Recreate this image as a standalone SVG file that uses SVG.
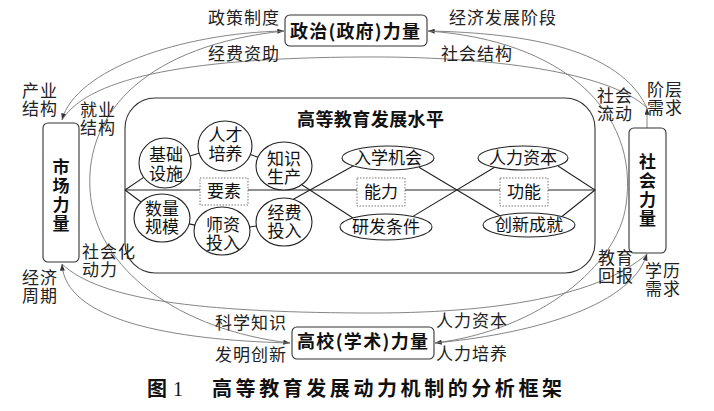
<svg xmlns="http://www.w3.org/2000/svg" width="714" height="411" viewBox="0 0 714 411">
<defs>
<style>
.t{font-family:"Liberation Serif","Noto Sans CJK SC",serif;font-size:17px;fill:#222;letter-spacing:1px}
.m{font-family:"Liberation Serif","Noto Sans CJK SC",serif;font-size:17px;fill:#111;text-anchor:middle}
.b{font-family:"Noto Sans CJK SC",sans-serif;font-size:18px;font-weight:bold;fill:#111}
.v{font-family:"Noto Sans CJK SC",sans-serif;font-size:17px;font-weight:bold;fill:#111;writing-mode:vertical-rl;letter-spacing:2px}
.n{fill:#fff;stroke:#222;stroke-width:1.1}
.box{fill:#fff;stroke:#333;stroke-width:1.1}
.d{fill:#fff;stroke:#777;stroke-width:1;stroke-dasharray:1.5 1.5}
.c{fill:none;stroke:#777;stroke-width:0.9}
.l{fill:none;stroke:#222;stroke-width:1.1}
</style>
<marker id="ah" viewBox="0 0 8 6" refX="8" refY="3" markerWidth="7" markerHeight="5" orient="auto-start-reverse" markerUnits="userSpaceOnUse"><path d="M0,0 L8,3 L0,6 z" fill="#333"/></marker>
</defs>
<rect width="714" height="411" fill="#fff"/>

<g id="hed-frame">
<rect x="125" y="98" width="470" height="175" rx="30" class="box"/>
<text class="b" x="297" y="126" textLength="147">高等教育发展水平</text>
</g>

<g id="connectors">
<path class="c" d="M62,120 C75,70 180,33 284,31" marker-start="url(#ah)" marker-end="url(#ah)"/>
<path class="c" d="M62,120 C90,75 200,58 360,57 C490,56 610,72 647,108"/>
<path class="c" d="M428,31 C530,33 620,50 647,108" marker-start="url(#ah)"/>
<path class="c" d="M647,128 L647,108" marker-end="url(#ah)"/>
<path class="c" d="M428,31 C560,40 640,110 626,205 C618,265 540,330 435,343" marker-end="url(#ah)"/>
<path class="c" d="M284,31 C150,45 85,110 90,190 C95,270 180,330 290,343" marker-end="url(#ah)"/>
<path class="c" d="M62,264 C100,300 200,312 360,313 C500,314 600,295 647,254"/>
<path class="c" d="M62,264 C65,320 170,340 290,343" marker-start="url(#ah)"/>
<path class="c" d="M647,254 C630,310 520,335 435,343" marker-start="url(#ah)"/>
<path class="l" d="M125,190 H595"/>
<path class="l" d="M125,190 L143.7,177.4 M125,190 L141,202"/>
<path class="l" d="M190,156 L199,153.3 M250.4,154.6 L258,157.2"/>
<path class="l" d="M189.1,223.9 L194.9,225.1 M249.6,227 L256.4,226"/>
<path class="l" d="M301.8,184.7 L353,218 M293.4,199.3 L353.5,165.8"/>
<path class="l" d="M419,167.2 L500,215.8 M413,216.4 L495,167"/>
<path class="l" d="M558,166 L595,190 L562,216.5"/>
</g>

<g id="politics">
<rect x="285" y="15" width="142" height="31" rx="5" class="box"/>
<text class="b" x="290" y="38" textLength="130">政治(政府)力量</text>
</g>
<g id="university">
<rect x="292" y="327" width="142" height="32" rx="5" class="box"/>
<text class="b" x="297" y="348" textLength="131">高校(学术)力量</text>
</g>
<g id="market">
<rect x="43" y="123" width="36" height="139" rx="5" class="box"/>
<text class="v" x="61" y="158">市场力量</text>
</g>
<g id="society">
<rect x="629" y="128" width="37" height="125" rx="5" class="box"/>
<text class="v" x="647.5" y="153">社会力量</text>
</g>

<g id="jichusheshi"><ellipse cx="165" cy="163" rx="26" ry="25" class="n"/><text class="m" x="166" y="161">基础</text><text class="m" x="166" y="180">设施</text></g>
<g id="rencaipeiyang"><ellipse cx="225" cy="146" rx="27" ry="25" class="n"/><text class="m" x="225.5" y="141">人才</text><text class="m" x="225.5" y="160">培养</text></g>
<g id="zhishishengchan"><ellipse cx="284" cy="166" rx="28" ry="24" class="n"/><text class="m" x="284" y="165">知识</text><text class="m" x="284" y="183">生产</text></g>
<g id="shuliangguimo"><ellipse cx="162" cy="218" rx="28" ry="24" class="n"/><text class="m" x="162" y="215">数量</text><text class="m" x="162" y="233">规模</text></g>
<g id="shizitouru"><ellipse cx="222" cy="231" rx="28" ry="24" class="n"/><text class="m" x="223" y="231">师资</text><text class="m" x="223" y="249">投入</text></g>
<g id="jingfeitouru"><ellipse cx="284" cy="222" rx="28" ry="24" class="n"/><text class="m" x="284.5" y="219">经费</text><text class="m" x="284.5" y="237">投入</text></g>

<g id="yaosu"><rect x="200" y="178" width="48" height="27" class="d"/><text class="m" x="224" y="197">要素</text></g>
<g id="nengli"><rect x="357" y="178" width="48" height="28" class="d"/><text class="m" x="381" y="198">能力</text></g>
<g id="gongneng"><rect x="500" y="178" width="48" height="28" class="d"/><text class="m" x="524" y="198">功能</text></g>

<g id="ruxuejihui"><ellipse cx="388" cy="158" rx="46" ry="12" class="n"/><text class="m" x="388" y="164">入学机会</text></g>
<g id="yanfatiaojian"><ellipse cx="386" cy="227" rx="46" ry="13" class="n"/><text class="m" x="386" y="233">研发条件</text></g>
<g id="renliziben"><ellipse cx="523" cy="158" rx="45" ry="12" class="n"/><text class="m" x="523" y="164">人力资本</text></g>
<g id="chuangxinchengjiu"><ellipse cx="529" cy="225" rx="46" ry="12" class="n"/><text class="m" x="529" y="231">创新成就</text></g>

<g id="labels">
<text class="t" x="208" y="24">政策制度</text>
<text class="t" x="208" y="60">经费资助</text>
<text class="t" x="449" y="24">经济发展阶段</text>
<text class="t" x="441" y="60">社会结构</text>
<text class="t" x="22" y="97">产业</text><text class="t" x="22" y="115">结构</text>
<text class="t" x="80" y="116">就业</text><text class="t" x="80" y="134">结构</text>
<text class="t" x="647" y="96">阶层</text><text class="t" x="647" y="114">需求</text>
<text class="t" x="597" y="102">社会</text><text class="t" x="597" y="120">流动</text>
<text class="t" x="82" y="258">社会化</text><text class="t" x="82" y="276">动力</text>
<text class="t" x="22" y="284">经济</text><text class="t" x="22" y="302">周期</text>
<text class="t" x="598" y="264">教育</text><text class="t" x="598" y="282">回报</text>
<text class="t" x="645" y="277">学历</text><text class="t" x="645" y="295">需求</text>
<text class="t" x="215" y="329">科学知识</text>
<text class="t" x="215" y="361">发明创新</text>
<text class="t" x="436" y="327">人力资本</text>
<text class="t" x="436" y="360">人力培养</text>
</g>

<g id="caption">
<text x="147" y="396" style="font-family:'Noto Sans CJK SC',sans-serif;font-size:20px;font-weight:bold;fill:#111">图</text>
<text x="173" y="396" style="font-family:'Liberation Serif',serif;font-size:20px;fill:#111">1</text>
<text x="212" y="396" textLength="350" style="font-family:'Noto Sans CJK SC',sans-serif;font-size:20px;font-weight:bold;fill:#111">高等教育发展动力机制的分析框架</text>
</g>
</svg>
